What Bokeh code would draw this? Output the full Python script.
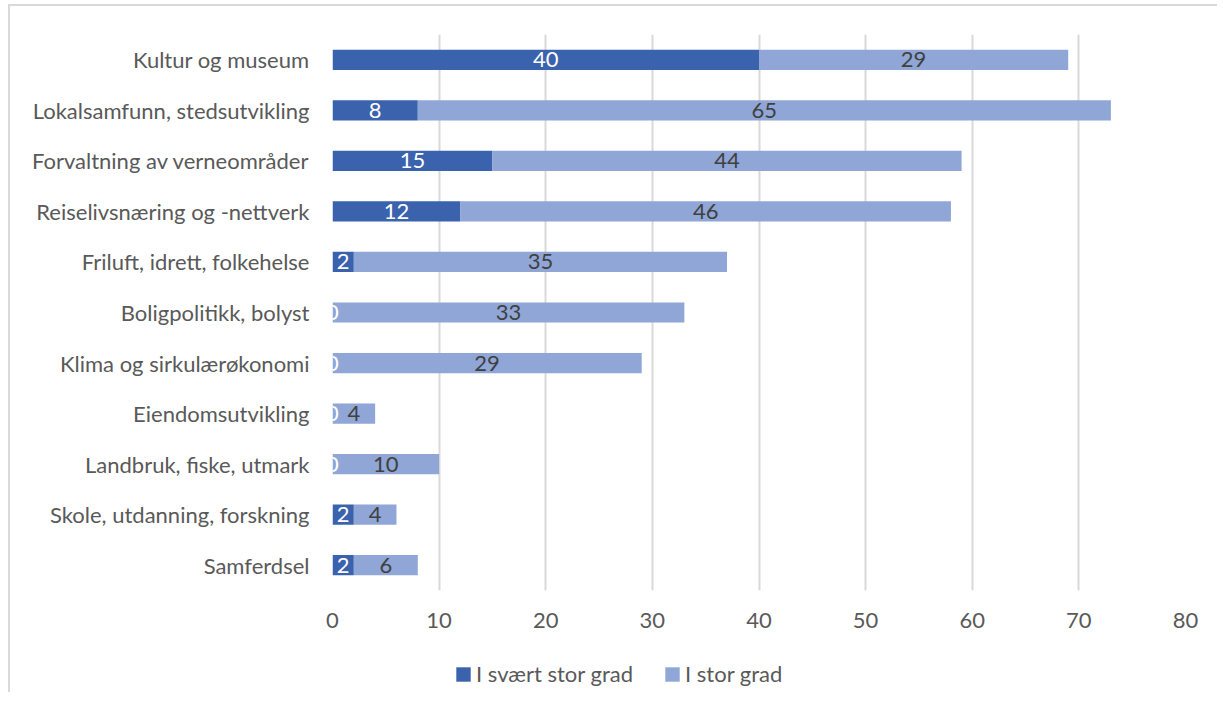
from bokeh.plotting import figure
from bokeh.models import ColumnDataSource, Legend, LegendItem, FactorRange
from bokeh.layouts import column
from bokeh.core.properties import value
from bokeh.embed import file_html
from bokeh.resources import INLINE

categories = ["Kultur og museum", "Lokalsamfunn, stedsutvikling", "Forvaltning av verneområder",
              "Reiselivsnæring og -nettverk", "Friluft, idrett, folkehelse", "Boligpolitikk, bolyst",
              "Klima og sirkulærøkonomi", "Eiendomsutvikling", "Landbruk, fiske, utmark",
              "Skole, utdanning, forskning", "Samferdsel"]
svaert_stor = [40, 8, 15, 12, 2, 0, 0, 0, 0, 2, 2]
stor = [29, 65, 44, 46, 35, 33, 29, 4, 10, 4, 6]
series_names = ["I svært stor grad", "I stor grad"]
x_ticks = [0, 10, 20, 30, 40, 50, 60, 70, 80]

dark = "#3B63AD"
light = "#8FA6D6"
font = "Lato"
fs = "22px"

src = ColumnDataSource(dict(
    cat=categories,
    a_end=svaert_stor,
    b_end=[x + y for x, y in zip(svaert_stor, stor)],
    a_mid=[x / 2 for x in svaert_stor],
    b_mid=[x + y / 2 for x, y in zip(svaert_stor, stor)],
    a_txt=[str(v) for v in svaert_stor],
    b_txt=[str(v) for v in stor],
    zero=[0] * len(categories),
))

p = figure(width=1207, height=634, output_backend="svg", toolbar_location=None,
           y_range=FactorRange(*reversed(categories)), x_range=(0, 80),
           min_border_left=322, min_border_right=32, min_border_top=28, min_border_bottom=50)
p.outline_line_color = None
p.border_fill_color = "white"

r1 = p.hbar(y="cat", left="zero", right="a_end", height=0.4, source=src, color=dark, line_color=None)
r2 = p.hbar(y="cat", left="a_end", right="b_end", height=0.4, source=src, color=light, line_color=None)

p.text(x="a_mid", y="cat", text="a_txt", source=src, text_align="center", text_baseline="middle",
       text_color="white", text_font=value(font), text_font_size=fs)
p.text(x="b_mid", y="cat", text="b_txt", source=src, text_align="center", text_baseline="middle",
       text_color="#404040", text_font=value(font), text_font_size=fs)

p.xaxis.ticker = x_ticks
p.xaxis.axis_line_color = None
p.xaxis.major_tick_line_color = None
p.xaxis.minor_tick_line_color = None
p.xaxis.major_label_text_font = font
p.xaxis.major_label_text_font_size = fs
p.xaxis.major_label_text_color = "#595959"
p.xaxis.major_label_standoff = 16

p.yaxis.axis_line_color = None
p.yaxis.major_tick_line_color = None
p.yaxis.minor_tick_line_color = None
p.yaxis.major_label_text_font = font
p.yaxis.major_label_text_font_size = fs
p.yaxis.major_label_text_color = "#595959"
p.yaxis.major_label_standoff = 17

p.ygrid.grid_line_color = None
p.xgrid.grid_line_color = "#D9D9D9"
p.xgrid.grid_line_width = 2

# legend strip below the chart (its frame is aligned with the chart frame)
lf = figure(width=1207, height=52, output_backend="svg", toolbar_location=None,
            x_range=(0, 1), y_range=(0, 1), min_border=0)
lf.axis.visible = False
lf.grid.visible = False
lf.outline_line_color = None
dummy = ColumnDataSource(dict(left=[-5], right=[-4], bottom=[-5], top=[-4]))
l1 = lf.quad(left="left", right="right", bottom="bottom", top="top", source=dummy, color=dark, line_color=None)
l2 = lf.quad(left="left", right="right", bottom="bottom", top="top", source=dummy, color=light, line_color=None)
legend = Legend(items=[LegendItem(label=series_names[0], renderers=[l1]),
                       LegendItem(label=series_names[1], renderers=[l2])],
                orientation="horizontal", location=(122, 5),
                label_text_font=font, label_text_font_size=fs, label_text_color="#595959",
                glyph_width=18, glyph_height=18, spacing=30, border_line_color=None,
                background_fill_alpha=0, label_standoff=4, padding=4, margin=0)
lf.add_layout(legend, "center")

layout = column(p, lf, spacing=0, margin=(4, 0, 0, 8),
                styles={"border-left": "2px solid #D9D9D9", "border-top": "2px solid #D9D9D9"})

open("out.html", "w").write(file_html(layout, INLINE))
